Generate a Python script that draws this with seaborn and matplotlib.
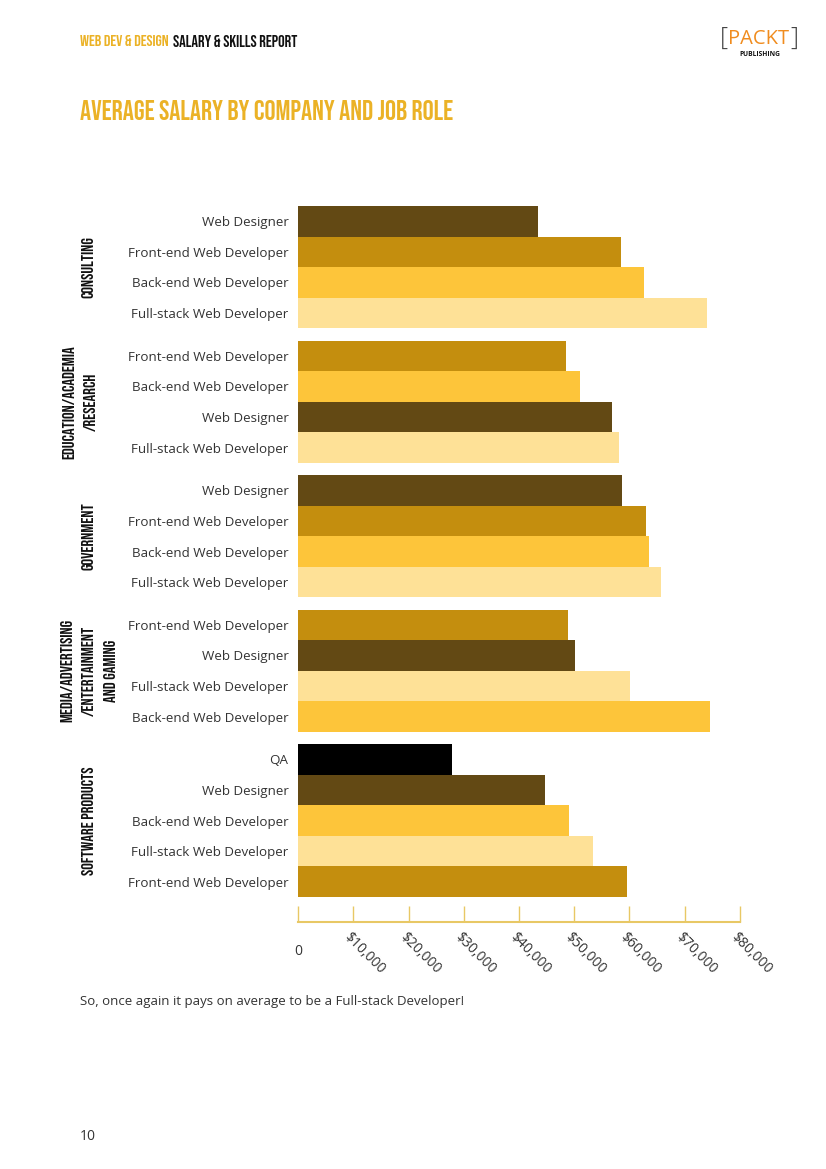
import numpy as np
import pandas as pd
import seaborn as sns
import matplotlib.pyplot as plt
from matplotlib import font_manager as fm
from matplotlib import transforms as mtransforms

# --- data ---
companies = ["CONSULTING", "EDUCATION/ACADEMIA\n/RESEARCH", "GOVERNMENT",
             "MEDIA/ADVERTISING\n/ENTERTAINMENT\nAND GAMING", "SOFTWARE PRODUCTS"]
consulting_roles = ["Web Designer", "Front-end Web Developer", "Back-end Web Developer", "Full-stack Web Developer"]
consulting_salary = [43500, 58500, 62700, 74100]
education_roles = ["Front-end Web Developer", "Back-end Web Developer", "Web Designer", "Full-stack Web Developer"]
education_salary = [48600, 51100, 56900, 58100]
government_roles = ["Web Designer", "Front-end Web Developer", "Back-end Web Developer", "Full-stack Web Developer"]
government_salary = [58600, 63100, 63600, 65700]
media_roles = ["Front-end Web Developer", "Web Designer", "Full-stack Web Developer", "Back-end Web Developer"]
media_salary = [48800, 50200, 60200, 74700]
software_roles = ["QA", "Web Designer", "Back-end Web Developer", "Full-stack Web Developer", "Front-end Web Developer"]
software_salary = [27900, 44800, 49000, 53400, 59500]

x_ticks = [0, 10000, 20000, 30000, 40000, 50000, 60000, 70000, 80000]
x_ticklabels = ["0", "$10,000", "$20,000", "$30,000", "$40,000", "$50,000", "$60,000", "$70,000", "$80,000"]

role_colors = {
    "Web Designer": "#634914",
    "Front-end Web Developer": "#C48E0E",
    "Back-end Web Developer": "#FDC53A",
    "Full-stack Web Developer": "#FEE197",
    "QA": "#000000",
}

GOLD = "#EBB226"
AXIS_GOLD = "#E8C865"
TEXT = "#333333"
GROUP_GAP = 0.4

# build long table with a numeric row position (gap between company groups)
groups = [consulting_roles, education_roles, government_roles, media_roles, software_roles]
salaries = [consulting_salary, education_salary, government_salary, media_salary, software_salary]
rows = []
pos = 0.0
group_centers = []
for company, roles, vals in zip(companies, groups, salaries):
    start = pos
    for role, val in zip(roles, vals):
        rows.append({"company": company, "role": role, "salary": val, "pos": round(pos, 2)})
        pos += 1
    group_centers.append((start + pos - 1) / 2)
    pos += GROUP_GAP
df = pd.DataFrame(rows)

sns.set_theme(style="white")
avail = {f.name for f in fm.fontManager.ttflist}
narrow = next((n for n in ["Bebas Neue", "Oswald", "Roboto Condensed", "Liberation Sans Narrow",
                           "DejaVu Sans Condensed"] if n in avail), "DejaVu Sans")
body = "Open Sans" if "Open Sans" in avail else "DejaVu Sans"
plt.rcParams["font.family"] = [body, "DejaVu Sans"]

W, H = 826, 1169
fig = plt.figure(figsize=(W / 100, H / 100), dpi=100)
renderer = fig.canvas.get_renderer()


def px(x, y):
    return x / W, 1 - y / H


def fit(txt, length_px):
    # scale font so the text run has the given length in pixels
    bb = txt.get_window_extent(renderer)
    cur = bb.height if txt.get_rotation() in (90, 270) else bb.width
    txt.set_fontsize(txt.get_fontsize() * length_px / cur)


# axes placed where the chart sits on the page
x0, x1 = 298.3, 739.7
y_top, y_axis = 206, 922
ax = fig.add_axes([x0 / W, (H - y_axis) / H, (x1 - x0) / W, (y_axis - y_top) / H])

sns.barplot(data=df, x="salary", y="pos", hue="role", palette=role_colors, orient="h",
            native_scale=True, dodge=False, width=1, saturation=1, errorbar=None,
            legend=False, linewidth=0, ax=ax)

last = df["pos"].max()
ax.set_xlim(0, 80000)
# bars are ~30.6 px tall; axis line sits ~25 px under the last bar
bar_px = 691 / (last + 1)
ax.set_ylim(last + 0.5 + 25 / bar_px, -0.5)

ax.set_yticks(df["pos"])
ax.set_yticklabels(df["role"], color=TEXT, fontsize=9.6)
ax.tick_params(axis="y", length=0, pad=7, left=False)

ax.set_xticks(x_ticks)
ax.set_xticklabels(x_ticklabels, rotation=-45, ha="left", va="center",
                   rotation_mode="anchor", color=TEXT, fontsize=10)
ax.tick_params(axis="x", bottom=True, direction="in", length=11.5, width=1,
               color=AXIS_GOLD, pad=9.5)
ax.set_xlabel("")
ax.set_ylabel("")
for side in ["top", "right", "left"]:
    ax.spines[side].set_visible(False)
ax.spines["bottom"].set_color(AXIS_GOLD)
ax.spines["bottom"].set_linewidth(1.5)

# nudge rotated labels left; "0" sits level and a bit lower
labels = ax.get_xticklabels()
for lab in labels[1:]:
    lab.set_transform(lab.get_transform() + mtransforms.ScaledTranslation(-7 / 100, 0, fig.dpi_scale_trans))
zero = labels[0]
zero.set_rotation(0)
zero.set_ha("center")
zero.set_va("top")
zero.set_transform(zero.get_transform() + mtransforms.ScaledTranslation(0, -9 / 100, fig.dpi_scale_trans))

# company group labels, one common size fitted on "SOFTWARE PRODUCTS" (~107 px long)
probe = fig.text(0, 0, "SOFTWARE PRODUCTS", rotation=90, family=narrow, weight="bold", fontsize=10)
group_fs = 10 * 109 / probe.get_window_extent(renderer).height
probe.remove()

blend = mtransforms.blended_transform_factory(fig.transFigure, ax.transData)
group_x = [87.5, 78.8, 87.5, 88.0, 87.5]
for name, cy, gx in zip(companies, group_centers, group_x):
    ax.text(gx / W, cy, name, transform=blend, rotation=90, ha="center", va="center",
            multialignment="center", family=narrow, weight="bold", fontsize=group_fs,
            color="#111111", linespacing=1.8)

# page header
h1 = fig.text(*px(80, 41), "WEB DEV & DESIGN", family=narrow, weight="bold",
              color=GOLD, fontsize=10, va="center", ha="left")
fit(h1, 90)
h2 = fig.text(*px(173, 41), "SALARY & SKILLS REPORT", family=narrow, weight="bold",
              color="#111111", fontsize=10, va="center", ha="left")
fit(h2, 126)

# logo
fig.text(*px(720, 38), "[", color="#444444", fontsize=18, weight="light", ha="left", va="center")
fig.text(*px(759, 39), "PACKT", color="#F08C1E", fontsize=14.5, ha="center", va="center")
fig.text(*px(798, 38), "]", color="#444444", fontsize=18, weight="light", ha="right", va="center")
fig.text(*px(760, 55), "PUBLISHING", color="#111111", fontsize=4.8, weight="bold",
         ha="center", va="center")

# title
title = fig.text(*px(80, 110), "AVERAGE SALARY BY COMPANY AND JOB ROLE", family=narrow,
                 weight="bold", color=GOLD, fontsize=20, va="center", ha="left")
fit(title, 373)

# footer
foot = fig.text(*px(80, 1001), "So, once again it pays on average to be a Full-stack Developer!",
                color=TEXT, fontsize=10, va="center", ha="left")
fit(foot, 381)
fig.text(*px(80, 1136), "10", color=TEXT, fontsize=10, va="center", ha="left")

fig.savefig("out.png", dpi=100)
